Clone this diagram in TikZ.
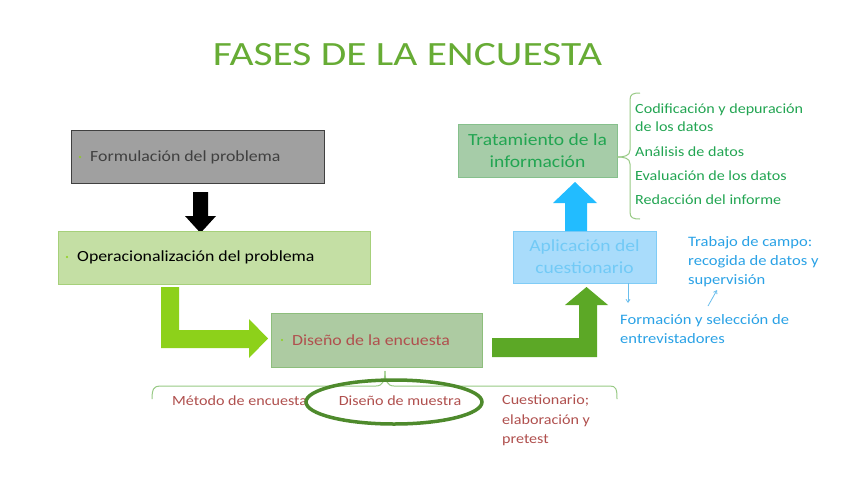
\documentclass[tikz,border=0pt]{standalone}
\usepackage{fontspec}
\setmainfont{Carlito}[FakeStretch=1.15]
\newfontfamily\titlefont{Carlito}[FakeStretch=1.22]
\usetikzlibrary{arrows.meta,decorations.pathreplacing,shapes.geometric}
\definecolor{titlegreen}{HTML}{67AC35}
\definecolor{grayfill}{HTML}{A0A0A0}
\definecolor{grayline}{HTML}{404040}
\definecolor{opfill}{HTML}{C4DFA4}
\definecolor{opline}{HTML}{A6D07A}
\definecolor{disfill}{HTML}{ADCBA2}
\definecolor{disline}{HTML}{8DBE7C}
\definecolor{redtext}{HTML}{B0504E}
\definecolor{apfill}{HTML}{A9DCFB}
\definecolor{apline}{HTML}{80CCF6}
\definecolor{aptext}{HTML}{72CAF6}
\definecolor{trfill}{HTML}{A6CCA8}
\definecolor{trline}{HTML}{86C08C}
\definecolor{trtext}{HTML}{22A552}
\definecolor{bluetext}{HTML}{2AA2E6}
\definecolor{limearrow}{HTML}{8DD11A}
\definecolor{darkarrow}{HTML}{5CA826}
\definecolor{bluearrow}{HTML}{22BCFF}
\definecolor{bracecol}{HTML}{98CA85}
\definecolor{ellcol}{HTML}{4E8A2C}
\definecolor{bullet}{HTML}{8DD11A}
\tikzset{
  box/.style={draw, line width=1pt, inner sep=0pt},
  txt/.style={font=\fontsize{15.5}{18}\selectfont, inner sep=0pt, anchor=west},
  bigtxt/.style={font=\fontsize{17}{22}\selectfont, inner sep=0pt, align=center},
  listtxt/.style={font=\fontsize{14}{18}\selectfont, inner sep=0pt, anchor=west, text=trtext},
  bluet/.style={font=\fontsize{14.4}{19}\selectfont, inner sep=0pt, anchor=north west, align=left, text=bluetext},
  redt/.style={font=\fontsize{14}{19.5}\selectfont, inner sep=0pt, text=redtext},
  dot/.style={circle, fill=bullet, inner sep=0pt, minimum size=2.2pt}
}
\begin{document}
\begin{tikzpicture}[x=1pt,y=-1pt]
\useasboundingbox (0,0) rectangle (848,477);
\fill[white] (0,0) rectangle (848,477);

% title
\node[font=\titlefont\fontsize{34}{40}\selectfont, text=titlegreen, inner sep=0pt] (title) at (407.5,55) {FASES DE LA ENCUESTA};

% box 1
\node[box, draw=grayline, fill=grayfill, minimum width=253pt, minimum height=53pt] (b1) at (197.5,156.5) {};
\node[dot] (d1) at (80,157) {};
\node[txt, text=grayline] (t1) at (90,157) {Formulación del problema};

% black arrow
\fill[black] (193,192) -- (208,192) -- (208,216) -- (216,216) -- (200.5,233) -- (185,216) -- (193,216) -- cycle;

% box 2
\node[box, draw=opline, fill=opfill, minimum width=312pt, minimum height=53pt] (b2) at (214,258) {};
\node[dot] (d2) at (67,257) {};
\node[txt, text=black] (t2) at (77,257) {Operacionalización del problema};

% lime bent arrow
\fill[limearrow] (161,287) -- (179,287) -- (179,330) -- (249,330) -- (249,319) -- (268,338.5) -- (249,358) -- (249,348) -- (161,348) -- cycle;

% box 3
\node[box, draw=disline, fill=disfill, minimum width=211pt, minimum height=54pt] (b3) at (377,340) {};
\node[dot] (d3) at (282,340) {};
\node[txt, text=redtext] (t3) at (292,340) {Diseño de la encuesta};

% dark green bent arrow
\fill[darkarrow] (492,338) -- (579,338) -- (579,305) -- (565,305) -- (586.5,287) -- (608,305) -- (597,305) -- (597,357) -- (492,357) -- cycle;

% box 5 aplicacion
\node[box, draw=apline, fill=apfill, minimum width=143pt, minimum height=52pt] (b5) at (584.5,257) {};
\node[bigtxt, text=aptext] (t5) at (584.5,257) {Aplicación del\\cuestionario};

% blue up arrow
\fill[bluearrow] (565,231) -- (587,231) -- (587,203) -- (597,203) -- (575,182) -- (553,203) -- (565,203) -- cycle;

% box 6 tratamiento
\node[box, draw=trline, fill=trfill, minimum width=159pt, minimum height=53pt] (b6) at (537.5,150.5) {};
\node[bigtxt, text=trtext] (t6) at (537.5,150.5) {Tratamiento de la\\información};

% right brace
\draw[bracecol, line width=1pt] (617,157) .. controls (624,157) and (630,156) .. (630,150)
  -- (630,100) .. controls (630,94) and (633,93) .. (640,93);
\draw[bracecol, line width=1pt] (617,157) .. controls (624,157) and (630,158) .. (630,164)
  -- (630,212) .. controls (630,218) and (633,219) .. (640,219);

% list
\node[listtxt, anchor=north west, align=left] (l1) at (635,103.5) {Codificación y depuración\\de los datos};
\node[listtxt] (l2) at (635,152) {Análisis de datos};
\node[listtxt] (l3) at (635,176) {Evaluación de los datos};
\node[listtxt] (l4) at (635,200) {Redacción del informe};

% blue texts
\node[bluet] (bt1) at (688,236) {Trabajo de campo:\\recogida de datos y\\supervisión};
\node[bluet] (bt2) at (620,314) {Formación y selección de\\entrevistadores};
\coordinate (a1s) at (628,283);
\coordinate (a1e) at (628,303);
\draw[bluetext!70, line width=0.8pt, -{Straight Barb[length=3pt,width=4pt]}] (a1s) -- (a1e);
\coordinate (a2s) at (708,306);
\coordinate (a2e) at (717,290);
\draw[bluetext!70, line width=0.8pt, -{Straight Barb[length=3pt,width=4pt]}] (a2s) -- (a2e);

% bottom brace
\draw[bracecol, line width=1pt] (385,371) .. controls (385,380) and (383,386) .. (376,386)
  -- (160,386) .. controls (154,386) and (152,389) .. (152,399);
\draw[bracecol, line width=1pt] (385,371) .. controls (385,380) and (387,386) .. (394,386)
  -- (610,386) .. controls (616,386) and (617,389) .. (617,399);

% bottom texts
\node[redt, anchor=west] (m1) at (172,401) {Método de encuesta};
\node[redt] (m2) at (400,401) {Diseño de muestra};
\node[redt, anchor=north west, align=left] (m3) at (502,395) {Cuestionario;\\elaboración y\\pretest};

% ellipse
\node[ellipse, draw=ellcol, line width=3.5pt, minimum width=176pt, minimum height=44pt, inner sep=0pt] (ell) at (394,402) {};
\end{tikzpicture}
\end{document}
